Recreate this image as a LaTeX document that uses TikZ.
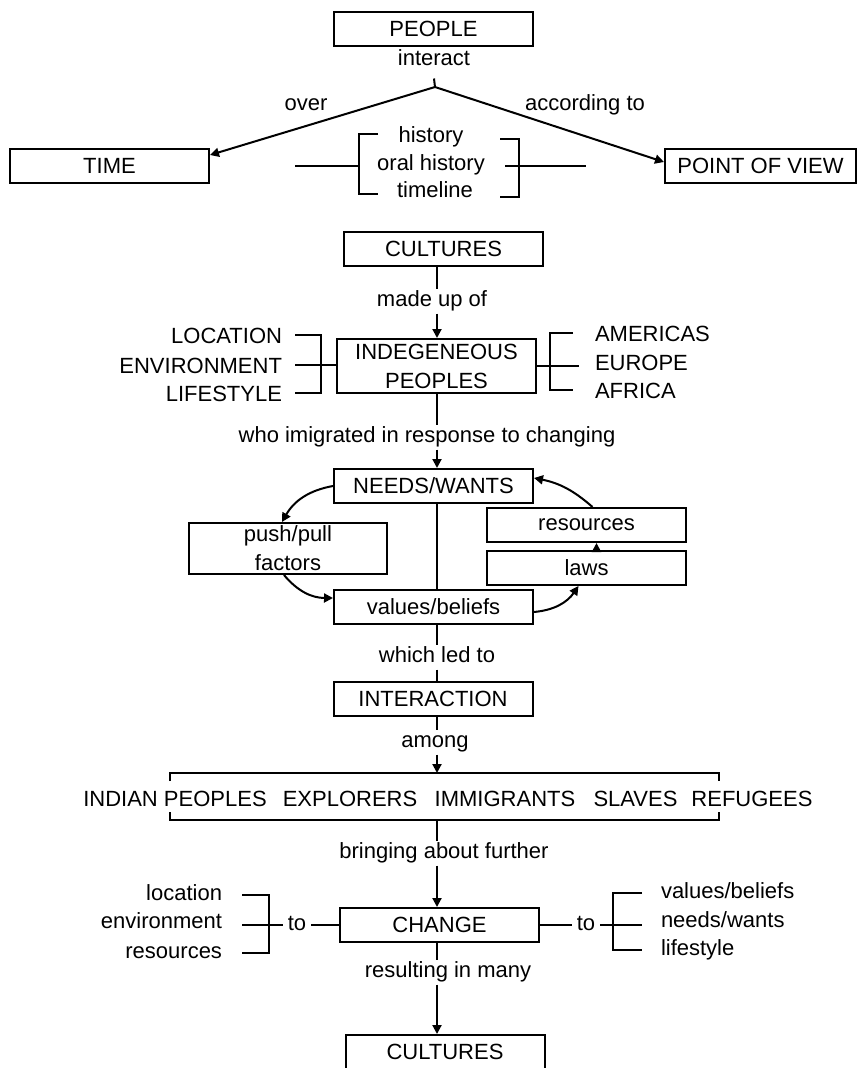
\documentclass[tikz,border=0pt]{standalone}
\usepackage{fontspec}
\setmainfont{Liberation Sans}
\usepackage{tikz}
\usetikzlibrary{positioning, arrows.meta}
\tikzset{
	node distance = 7pt,
	>={Triangle[length=9pt,width=9pt]},
	font = \fontsize{22}{29}\selectfont,
	box/.style={
		draw,
		rectangle,
		minimum width=199pt,
		minimum height=34pt,
		inner sep=0pt,
		align=center
	},
	word/.style={
		inner sep=2pt,
		text height=15pt,
		text depth=4pt
	},
	caps/.style={
		inner sep=2pt,
		text height=16pt,
		text depth=0pt
	},
	link/.style={
		->
	}
}

\begin{document}
\begin{tikzpicture}[x=1pt, y=-1pt, line width=2pt]
\path[use as bounding box, fill=white] (0,0) rectangle (857,1068);
\coordinate (axis) at (437,0);
% ---
% people and time
% ---
\node[box] at (433.5,29) (box-people) {PEOPLE};
\node[word] at (434,60) (lbl-interact) {interact};
\coordinate (fork) at (435,87);
\node[box] at (109.5,166) (box-time) {TIME};
\node[box, minimum width=191pt] at (760.5,166) (box-pov) {POINT OF VIEW};
\node[word] at (306,105) (lbl-over) {over};
\node[word] at (585,105) (lbl-according) {according to};

\draw ([yshift=-6pt]lbl-interact.south) -- (fork);
\draw[link] (fork) -- ([yshift=11pt]box-time.east);
\draw[link] (fork) -- ([yshift=4pt]box-pov.west);

\node[word] at (431,137) (lbl-hist) {history};
\node[word] at (431,165) (lbl-oral) {oral history};
\node[word] at (435,192) (lbl-timeline) {timeline};
\draw (378,134) -| (359,194) -- (378,194);
\draw (295,166) -- (359,166);
\draw (500,139) -| (519,197) -- (500,197);
\draw (505,166) -- (586,166);

% ---
% cultures and peoples
% ---
\node[box] at (443.5,248.5) (box-cult) {CULTURES};
\node[word] at (432,301) (lbl-made) {made up of};
\node[box, minimum height=54pt] at (436.5,366) (box-indig) {INDEGENEOUS\\PEOPLES};

\draw (box-cult.south -| axis) -- (lbl-made.north -| axis);
\draw[link] (lbl-made.south -| axis) -- (box-indig.north -| axis);

\node[caps, anchor=east] at (285,335) (lbl-loc) {LOCATION};
\node[caps, anchor=east] at (285,365) (lbl-env) {ENVIRONMENT};
\node[caps, anchor=east] at (285,393) (lbl-life) {LIFESTYLE};
\draw ([xshift=10pt]lbl-loc.east) -| ([xshift=36pt]lbl-life.east) -- ([xshift=10pt]lbl-life.east);
\draw ([xshift=10pt]lbl-env.east) -- (lbl-env.east -| box-indig.west);

\node[caps, anchor=west] at (592,333) (lbl-amer) {AMERICAS};
\node[caps, anchor=west] at (592,362) (lbl-eur) {EUROPE};
\node[caps, anchor=west] at (592,390) (lbl-afr) {AFRICA};
\draw ([xshift=-19pt]lbl-amer.west) -| ([xshift=-42pt]lbl-afr.west) -- ([xshift=-19pt]lbl-afr.west);
\draw (box-indig.east) -- ([xshift=-13pt]lbl-eur.west |- box-indig.east);

\node[word] at (427,437) (lbl-who) {who imigrated in response to changing};
\draw (box-indig.south -| axis) -- (lbl-who.north -| axis);

% ---
% needs and values
% ---
\node[box] at (433.5,486) (box-needs) {NEEDS/WANTS};
\node[box] at (433.5,607) (box-values) {values/beliefs};
\node[box, minimum width=198pt, minimum height=51pt] at (288,548.5) (box-push) {push/pull\\factors};
\node[box] at (586.5,525) (box-res) {resources};
\node[box, below=of box-res] (box-laws) {laws};

\draw[link] (lbl-who.south -| axis) -- (box-needs.north -| axis);
\draw (box-needs.south -| axis) -- (box-values.north -| axis);
\draw[link] (box-needs.west) to[bend right=25] ([xshift=-6pt]box-push.north);
\draw[link] ([xshift=-4pt]box-push.south) to[bend right=25] ([yshift=9pt]box-values.west);
\draw[link] ([yshift=-5pt]box-values.east) to[bend right=25] ([xshift=-8pt]box-laws.south);
\draw[link] ([xshift=6pt]box-res.north) to[bend right=15] ([yshift=8pt]box-needs.east);
\draw[link] ([xshift=10pt]box-laws.north) -- ([xshift=10pt]box-res.south);

% ---
% interaction
% ---
\node[word] at (437,657) (lbl-led) {which led to};
\node[box] at (433,699) (box-inter) {INTERACTION};
\node[word] at (435,742) (lbl-among) {among};
\coordinate (grp-top) at (437,773);
\coordinate (grp-bot) at (437,820);

\draw (box-values.south -| axis) -- (lbl-led.north -| axis);
\draw (lbl-led.south -| axis) -- (box-inter.north -| axis);
\draw (box-inter.south -| axis) -- (lbl-among.north -| axis);
\draw[link] (lbl-among.south -| axis) -- (grp-top);

\node[caps] at (175,798) (grp-indian) {INDIAN PEOPLES};
\node[caps] at (350,798) (grp-expl) {EXPLORERS};
\node[caps] at (505,798) (grp-immi) {IMMIGRANTS};
\node[caps] at (635.5,798) (grp-slaves) {SLAVES};
\node[caps] at (752,798) (grp-ref) {REFUGEES};
\draw (170,781) |- (grp-top) -| (719,781);
\draw (170,812) |- (grp-bot) -| (719,812);

% ---
% change
% ---
\node[word] at (444,853) (lbl-bring) {bringing about further};
\node[box] at (439.5,925) (box-change) {CHANGE};
\draw (grp-bot) -- (lbl-bring.north -| axis);
\draw[link] (lbl-bring.south -| axis) -- (box-change.north -| axis);

\node[word, anchor=east] at (225,895) (lbl-location) {location};
\node[word, anchor=east] at (225,923) (lbl-environment) {environment};
\node[word, anchor=east] at (225,953) (lbl-resources) {resources};
\node[word, inner sep=4pt] at (297,925) (to-left) {to};
\draw ([xshift=17pt]lbl-location.east) -| ([xshift=44pt]lbl-resources.east) -- ([xshift=17pt]lbl-resources.east);
\draw ([xshift=17pt]lbl-environment.east |- to-left) -- (to-left.west);
\draw (to-left.east) -- (box-change.west);

\node[word, anchor=west] at (658,893) (lbl-values) {values/beliefs};
\node[word, anchor=west] at (658,922) (lbl-needs) {needs/wants};
\node[word, anchor=west] at (658,950) (lbl-lifestyle) {lifestyle};
\node[word, inner sep=4pt] at (586,925) (to-right) {to};
\draw (box-change.east) -- (to-right.west);
\draw (to-right.east) -- ([xshift=-16pt]lbl-needs.west |- to-right);
\draw ([xshift=-16pt]lbl-values.west) -| ([xshift=-45pt]lbl-lifestyle.west) -- ([xshift=-16pt]lbl-lifestyle.west);

\node[word] at (448,972) (lbl-result) {resulting in many};
\node[box] at (445,1052) (box-cult2) {CULTURES};
\draw (box-change.south -| axis) -- (lbl-result.north -| axis);
\draw[link] (lbl-result.south -| axis) -- (box-cult2.north -| axis);
\end{tikzpicture}
\end{document}
